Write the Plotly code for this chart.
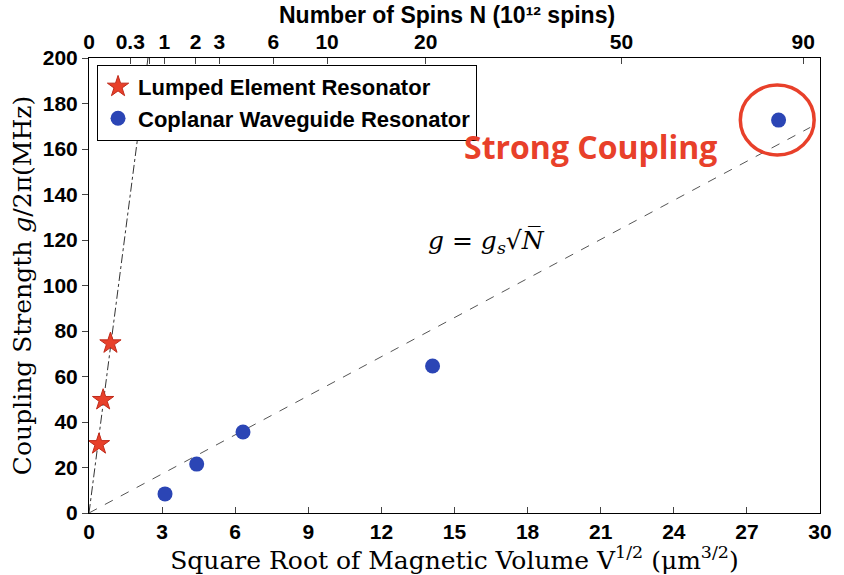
import numpy as np
import plotly.graph_objects as go

# Data
lumped_x = [0.41, 0.58, 0.88]
lumped_y = [30.3, 49.7, 74.6]
cpw_x = [3.12, 4.42, 6.32, 14.1, 28.3]
cpw_y = [8.4, 21.5, 35.6, 64.6, 172.7]

# fit lines (endpoints)
lumped_fit_x = [0.0, 2.42]
lumped_fit_y = [0.0, 200.0]
cpw_fit_x = [0.0, 29.6]
cpw_fit_y = [0.0, 169.5]

# top axis: number of spins (10^12), V^1/2 = k * sqrt(N)
spin_ticks = [0, 0.3, 0.65, 1, 2, 3, 6, 10, 20, 50, 90]
spin_labels = ["0", "0.3", "", "1", "2", "3", "6", "10", "20", "50", "90"]
k_scale = 3.09

x_ticks = [0, 3, 6, 9, 12, 15, 18, 21, 24, 27, 30]
y_ticks = [0, 20, 40, 60, 80, 100, 120, 140, 160, 180, 200]

RED = "#e8402a"
BLUE = "#2b45b5"
sans = "Liberation Sans"
serif = "DejaVu Serif"

fig = go.Figure()

fig.add_trace(go.Scatter(x=lumped_fit_x, y=lumped_fit_y, mode="lines",
                         line=dict(color="#333333", width=1, dash="dashdot"),
                         showlegend=False, hoverinfo="skip"))
fig.add_trace(go.Scatter(x=cpw_fit_x, y=cpw_fit_y, mode="lines",
                         line=dict(color="#555555", width=1, dash="dash"),
                         showlegend=False, hoverinfo="skip"))
fig.add_trace(go.Scatter(x=lumped_x, y=lumped_y, mode="markers",
                         name="Lumped Element Resonator", legendgroup="a",
                         marker=dict(symbol="star", size=16, color=RED,
                                     line=dict(color="#c02a1a", width=1))))
fig.add_trace(go.Scatter(x=cpw_x, y=cpw_y, mode="markers",
                         name="Coplanar Waveguide Resonator", legendgroup="b",
                         marker=dict(symbol="circle", size=15, color=BLUE,
                                     line=dict(color=BLUE, width=0))))
# invisible trace to activate top axis
fig.add_trace(go.Scatter(x=[0, 30], y=[None, None], xaxis="x2", mode="markers",
                         showlegend=False, hoverinfo="skip"))

fig.add_shape(type="circle", xref="x", yref="y", x0=26.73, x1=29.76, y0=157.4, y1=188.1,
              line=dict(color=RED, width=3.5))

fig.add_annotation(x=20.6, y=161, xref="x", yref="y", text="<b>Strong Coupling</b>",
                   showarrow=False, font=dict(family="Open Sans", size=32, color=RED))
fig.add_annotation(x=16.3, y=119, xref="x", yref="y",
                   text="<i>g</i> = <i>g<sub>s</sub></i>√<i>N̅</i>",
                   showarrow=False, font=dict(family=serif, size=25, color="black"))
# top axis title
fig.add_annotation(x=0.49, y=1.095, xref="paper", yref="paper", yanchor="middle",
                   text="<b>Number of Spins N (10¹² spins)</b>",
                   showarrow=False, font=dict(family=sans, size=23, color="black"))

axis_common = dict(showline=True, linecolor="black", linewidth=1,
                   showgrid=False, zeroline=False)

fig.update_layout(
    width=844, height=575,
    margin=dict(l=89, r=13, t=58, b=62),
    paper_bgcolor="white", plot_bgcolor="white",
    xaxis=dict(range=[0, 30], tickvals=x_ticks, ticks="inside", ticklen=6,
               tickfont=dict(family=sans, size=21, color="black", weight="bold"),
               title=dict(text="Square Root of Magnetic Volume V<sup>1/2</sup> (μm<sup>3/2</sup>)",
                          font=dict(family=serif, size=25, color="black"), standoff=2),
               **axis_common),
    xaxis2=dict(range=[0, 30], overlaying="x", side="top",
                tickvals=[k_scale * np.sqrt(n) for n in spin_ticks], ticktext=spin_labels,
                ticks="inside", ticklen=6,
                tickfont=dict(family=sans, size=21, color="black", weight="bold"),
                **axis_common),
    yaxis=dict(range=[0, 200], tickvals=y_ticks, ticks="outside", ticklen=6,
               tickfont=dict(family=sans, size=21, color="black", weight="bold"),
               title=dict(text="Coupling Strength <i>g</i>/2π(MHz)",
                          font=dict(family=serif, size=25, color="black"), standoff=4),
               mirror=True, **axis_common),
    legend=dict(x=0.011, y=0.985, xanchor="left", yanchor="top",
                bordercolor="black", borderwidth=1, bgcolor="white",
                font=dict(family=sans, size=22, color="black", weight="bold"),
                tracegroupgap=0, itemwidth=30),
    showlegend=True,
)

fig.write_html("out.html")
